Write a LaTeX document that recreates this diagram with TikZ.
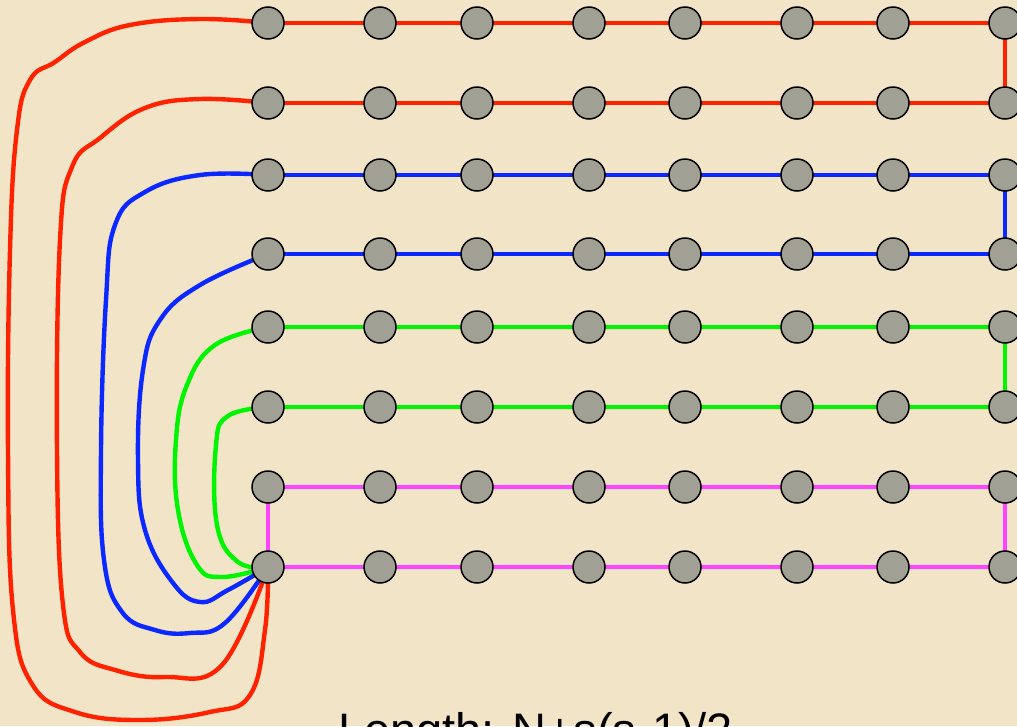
\documentclass[tikz,border=0pt]{standalone}
\usepackage{fontspec}
\setmainfont{Liberation Sans}
\pgfdeclarelayer{background}
\pgfsetlayers{background,main}
\definecolor{parch}{RGB}{242,228,198}
\definecolor{dotgray}{RGB}{160,160,148}
\definecolor{lred}{RGB}{255,34,0}
\definecolor{lblue}{RGB}{10,40,255}
\definecolor{lgreen}{RGB}{0,245,0}
\definecolor{lmag}{RGB}{255,68,255}
\tikzset{
  dot/.style={circle,draw=black,line width=1.5pt,fill=dotgray,minimum size=32pt,inner sep=0pt},
  link/.style={line width=4.4pt,line join=round,line cap=round},
  crv/.style={link,smooth,tension=0.7},
}
\begin{document}
\begin{tikzpicture}[x=1pt,y=-1pt]
\useasboundingbox (0,0) rectangle (1017,726);
\clip (0,0) rectangle (1017,726);
\foreach \yy [count=\r] in {23,103,175,254,327,407,487,567}
  \foreach \xx [count=\c] in {268,380,477,589,685,797,893,1005}
    \node[dot] (n\r\c) at (\xx,\yy) {};
\begin{pgfonlayer}{background}
\fill[parch] (0,0) rectangle (1017,726);
\draw[link,lred] (n11) -- (n18) -- (n28) -- (n21);
\draw[link,lblue] (n31) -- (n38) -- (n48) -- (n41);
\draw[link,lgreen] (n51) -- (n58) -- (n68) -- (n61);
\draw[link,lmag] (n71) -- (n78) -- (n88) -- (n81) -- (n71);
\draw[crv,lred] plot coordinates {(n11) (200,19) (130,25) (85,42) (55,62) (30,80) (17,130) (10,250) (8,450) (13,610) (32,684) (75,712) (140,720) (210,712) (250,695) (265,630) (n81)};
\draw[crv,lred] plot coordinates {(n21) (200,99) (145,108) (100,138) (72,167) (60,240) (57,450) (63,605) (80,652) (115,670) (165,677) (222,665) (n81)};
\draw[crv,lblue] plot coordinates {(n31) (200,175) (145,192) (115,225) (106,300) (101,450) (104,560) (122,612) (155,630) (190,633) (225,623) (n81)};
\draw[crv,lblue] plot coordinates {(n41) (200,285) (160,320) (143,370) (138,460) (145,530) (173,583) (200,602) (228,590) (n81)};
\draw[crv,lgreen] plot coordinates {(n51) (215,345) (187,385) (176,440) (178,510) (197,565) (222,577) (n81)};
\draw[crv,lgreen] plot coordinates {(n61) (228,416) (216,445) (217,525) (238,562) (n81)};
\end{pgfonlayer}
\node[anchor=base west,inner sep=0pt,font=\fontsize{47}{56}\selectfont] (cap) at (338,746) {Length: N+s(s-1)/2};
\end{tikzpicture}
\end{document}
